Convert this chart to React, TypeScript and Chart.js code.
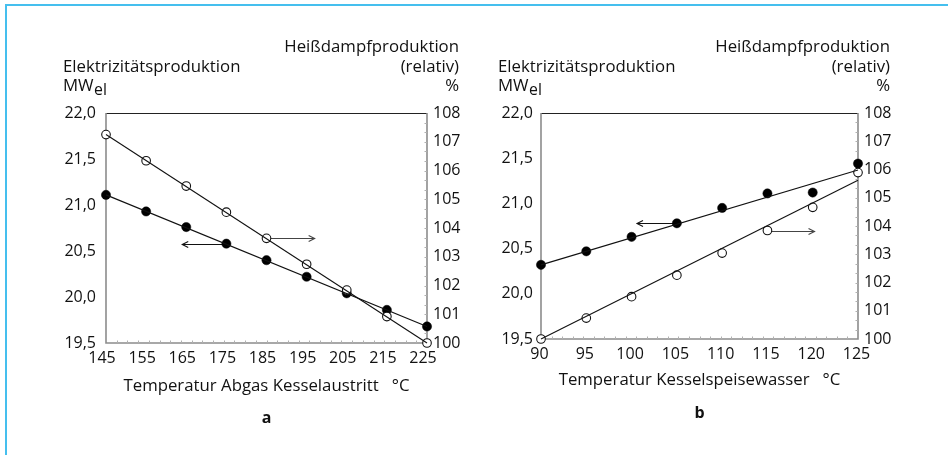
import React, { useEffect, useRef } from "react";
import { Chart, registerables } from "chart.js";

Chart.register(...registerables);

// ---------- Data ----------
// Panel a: Temperatur Abgas Kesselaustritt (°C)
const xA = [145, 155, 165, 175, 185, 195, 205, 215, 225];
const elecA = [21.11, 20.93, 20.76, 20.58, 20.4, 20.22, 20.04, 19.86, 19.68];
const steamA = [107.25, 106.34, 105.46, 104.55, 103.64, 102.74, 101.84, 100.92, 100.0];
const fitXA = [145, 225];
const fitElecA = [21.11, 19.68];
const fitSteamA = [107.25, 100.0];
const xTicksA = [145, 155, 165, 175, 185, 195, 205, 215, 225];
// arrows: [x from, x to, y value]
const arrowElecA = [175, 164, 20.58];
const arrowSteamA = [185, 197, 103.64];

// Panel b: Temperatur Kesselspeisewasser (°C)
const xB = [90, 95, 100, 105, 110, 115, 120, 125];
const elecB = [20.32, 20.47, 20.63, 20.78, 20.95, 21.11, 21.12, 21.44];
const steamB = [100.0, 100.74, 101.5, 102.26, 103.04, 103.84, 104.66, 105.89];
const fitXB = [90, 125];
const fitElecB = [20.32, 21.37];
const fitSteamB = [100.0, 105.62];
const xTicksB = [90, 95, 100, 105, 110, 115, 120, 125];
const arrowElecB = [105, 100.6, 20.78];
const arrowSteamB = [115, 120.2, 103.84];

// Shared axes
const leftTicks = [19.5, 20.0, 20.5, 21.0, 21.5, 22.0];
const rightTicks = [100, 101, 102, 103, 104, 105, 106, 107, 108];

// Texts
const leftHeader1 = "Elektrizitätsproduktion";
const leftHeaderUnit = "MW";
const leftHeaderSub = "el";
const rightHeader = ["Heißdampfproduktion", "(relativ)", "%"];
const xTitleA = "Temperatur Abgas Kesselaustritt   °C";
const xTitleB = "Temperatur Kesselspeisewasser   °C";

const FONT = "'Open Sans', 'Noto Sans', sans-serif";
const TEXT = "#111111";
const AXIS = "#8c8c8c";
const TXT_SIZE = 16.8;
const TICK_SIZE = 16;

type Panel = {
  xs: number[];
  elec: number[];
  steam: number[];
  fitX: number[];
  fitElec: number[];
  fitSteam: number[];
  xTicks: number[];
  arrowElec: number[];
  arrowSteam: number[];
  title: string;
  label: string;
  leftW: number;
  rightW: number;
  top: number;
  xH: number;
  leftPad: number;
  labelOffset: number;
  titleDy: number;
  labelDy: number;
};

const panelA: Panel = {
  xs: xA, elec: elecA, steam: steamA, fitX: fitXA, fitElec: fitElecA, fitSteam: fitSteamA,
  xTicks: xTicksA, arrowElec: arrowElecA, arrowSteam: arrowSteamA,
  title: xTitleA, label: "a",
  leftW: 106, rightW: 47, top: 113, xH: 112, leftPad: 10, labelOffset: -4, titleDy: 43, labelDy: 75,
};
const panelB: Panel = {
  xs: xB, elec: elecB, steam: steamB, fitX: fitXB, fitElec: fitElecB, fitSteam: fitSteamB,
  xTicks: xTicksB, arrowElec: arrowElecB, arrowSteam: arrowSteamB,
  title: xTitleB, label: "b",
  leftW: 67, rightW: 90, top: 113, xH: 116, leftPad: 8, labelOffset: -1.5, titleDy: 41, labelDy: 74,
};

function drawArrow(ctx: CanvasRenderingContext2D, x1: number, x2: number, y: number, color: string) {
  const dir = x2 > x1 ? 1 : -1;
  ctx.save();
  ctx.strokeStyle = color;
  ctx.lineWidth = 1.1;
  ctx.beginPath();
  ctx.moveTo(x1, y);
  ctx.lineTo(x2, y);
  ctx.moveTo(x2 - dir * 6, y - 3);
  ctx.lineTo(x2, y);
  ctx.lineTo(x2 - dir * 6, y + 3);
  ctx.stroke();
  ctx.restore();
}

function makePlugin(p: Panel) {
  return {
    id: "panelDecor" + p.label,
    beforeDatasetsDraw(chart: any) {
      const { ctx, chartArea } = chart;
      const { left, right, top, bottom } = chartArea;
      const sx = chart.scales.x;
      const yl = chart.scales.yL;
      const yr = chart.scales.yR;
      ctx.save();
      // top frame line
      ctx.strokeStyle = "#222";
      ctx.lineWidth = 1;
      ctx.beginPath();
      ctx.moveTo(left, top + 0.5);
      ctx.lineTo(right, top + 0.5);
      ctx.stroke();
      // axes
      ctx.strokeStyle = AXIS;
      ctx.lineWidth = 1.6;
      ctx.beginPath();
      ctx.moveTo(left, top);
      ctx.lineTo(left, bottom);
      ctx.lineTo(right, bottom);
      ctx.lineTo(right, top);
      ctx.stroke();
      // minor ticks along bottom and right axis
      ctx.strokeStyle = "#b0b0b0";
      ctx.lineWidth = 1;
      ctx.beginPath();
      for (let i = 1; i < 30; i++) {
        const x = Math.round(left + ((right - left) * i) / 30) + 0.5;
        ctx.moveTo(x, bottom);
        ctx.lineTo(x, bottom - 2.5);
      }
      for (let i = 1; i < 24; i++) {
        const y = Math.round(top + ((bottom - top) * i) / 24) + 0.5;
        ctx.moveTo(right, y);
        ctx.lineTo(right - 2.5, y);
      }
      ctx.stroke();
      ctx.restore();
      // arrows
      drawArrow(ctx, sx.getPixelForValue(p.arrowElec[0]), sx.getPixelForValue(p.arrowElec[1]), Math.round(yl.getPixelForValue(p.arrowElec[2])) + 0.5, "#111");
      drawArrow(ctx, sx.getPixelForValue(p.arrowSteam[0]), sx.getPixelForValue(p.arrowSteam[1]), Math.round(yr.getPixelForValue(p.arrowSteam[2])) + 0.5, "#444");
    },
    afterDraw(chart: any) {
      const { ctx, chartArea } = chart;
      const { left, right, top, bottom } = chartArea;
      ctx.save();
      ctx.fillStyle = TEXT;
      ctx.textBaseline = "middle";
      ctx.font = `${TXT_SIZE}px ${FONT}`;
      // left header
      ctx.textAlign = "left";
      const lx = left - 43;
      ctx.fillText(leftHeader1, lx, top - 46);
      ctx.fillText(leftHeaderUnit, lx, top - 27);
      const w = ctx.measureText(leftHeaderUnit).width;
      ctx.font = `${TXT_SIZE - 1}px ${FONT}`;
      ctx.fillText(leftHeaderSub, lx + w + 0.5, top - 23);
      // right header
      ctx.font = `${TXT_SIZE}px ${FONT}`;
      ctx.textAlign = "right";
      const rx = right + 32;
      ctx.fillText(rightHeader[0], rx, top - 66);
      ctx.fillText(rightHeader[1], rx, top - 46);
      ctx.fillText(rightHeader[2], rx, top - 27);
      // x title
      ctx.textAlign = "center";
      const cx = (left + right) / 2;
      ctx.fillText(p.title, cx, bottom + p.titleDy);
      ctx.font = `bold ${TXT_SIZE - 0.8}px ${FONT}`;
      ctx.fillText(p.label, cx, bottom + p.labelDy);
      ctx.restore();
    },
  };
}

function makeConfig(p: Panel): any {
  const tickFont = { family: FONT, size: TICK_SIZE };
  return {
    type: "scatter",
    data: {
      datasets: [
        {
          data: p.fitX.map((x, i) => ({ x, y: p.fitElec[i] })),
          yAxisID: "yL", showLine: true, pointRadius: 0, borderColor: "#111", borderWidth: 1.1, clip: false,
        },
        {
          data: p.fitX.map((x, i) => ({ x, y: p.fitSteam[i] })),
          yAxisID: "yR", showLine: true, pointRadius: 0, borderColor: "#111", borderWidth: 1.1, clip: false,
        },
        {
          data: p.xs.map((x, i) => ({ x, y: p.steam[i] })),
          yAxisID: "yR", showLine: false, pointRadius: 4.3, pointBackgroundColor: "#ffffff",
          pointBorderColor: "#111", pointBorderWidth: 1.1, clip: false,
        },
        {
          data: p.xs.map((x, i) => ({ x, y: p.elec[i] })),
          yAxisID: "yL", showLine: false, pointRadius: 4.6, pointBackgroundColor: "#000",
          pointBorderColor: "#000", pointBorderWidth: 0.5, clip: false,
        },
      ],
    },
    options: {
      animation: false,
      responsive: false,
      events: [],
      layout: { padding: { top: p.top, left: 0, right: 0, bottom: 0 } },
      plugins: { legend: { display: false }, tooltip: { enabled: false }, title: { display: false } },
      scales: {
        x: {
          type: "linear",
          position: "bottom",
          min: p.xTicks[0],
          max: p.xTicks[p.xTicks.length - 1],
          afterBuildTicks: (s: any) => { s.ticks = p.xTicks.map((v) => ({ value: v })); },
          afterFit: (s: any) => { s.height = p.xH; },
          grid: { display: false, drawTicks: false },
          border: { display: false },
          ticks: { font: tickFont, color: TEXT, padding: 6, labelOffset: p.labelOffset, autoSkip: false, maxRotation: 0, callback: (v: number) => String(v) },
        },
        yL: {
          type: "linear",
          position: "left",
          min: leftTicks[0],
          max: leftTicks[leftTicks.length - 1],
          afterBuildTicks: (s: any) => { s.ticks = leftTicks.map((v) => ({ value: v })); },
          afterFit: (s: any) => { s.width = p.leftW; },
          grid: { display: false, drawTicks: false },
          border: { display: false },
          ticks: { font: tickFont, color: TEXT, padding: p.leftPad, autoSkip: false, callback: (v: number) => v.toFixed(1).replace(".", ",") },
        },
        yR: {
          type: "linear",
          position: "right",
          min: rightTicks[0],
          max: rightTicks[rightTicks.length - 1],
          afterBuildTicks: (s: any) => { s.ticks = rightTicks.map((v) => ({ value: v })); },
          afterFit: (s: any) => { s.width = p.rightW; },
          grid: { display: false, drawTicks: false },
          border: { display: false },
          ticks: { font: tickFont, color: TEXT, padding: 6, autoSkip: false, callback: (v: number) => String(v) },
        },
      },
    },
    plugins: [makePlugin(p)],
  };
}

function PanelChart({ panel, left }: { panel: Panel; left: number }) {
  const ref = useRef<HTMLCanvasElement>(null);
  useEffect(() => {
    if (!ref.current) return;
    const chart = new Chart(ref.current, makeConfig(panel));
    return () => chart.destroy();
  }, [panel]);
  return (
    <canvas
      ref={ref}
      width={474}
      height={455}
      style={{ position: "absolute", left, top: 0, width: 474, height: 455 }}
    />
  );
}

export default function App() {
  return (
    <div style={{ position: "absolute", left: 0, top: 0, width: 948, height: 455, background: "#fff", overflow: "hidden" }}>
      <div
        style={{
          position: "absolute",
          left: 5,
          top: 4,
          width: 943,
          height: 451,
          borderTop: "2px solid #45bfee",
          borderLeft: "2px solid #45bfee",
          boxSizing: "border-box",
        }}
      />
      <PanelChart panel={panelA} left={0} />
      <PanelChart panel={panelB} left={474} />
    </div>
  );
}
